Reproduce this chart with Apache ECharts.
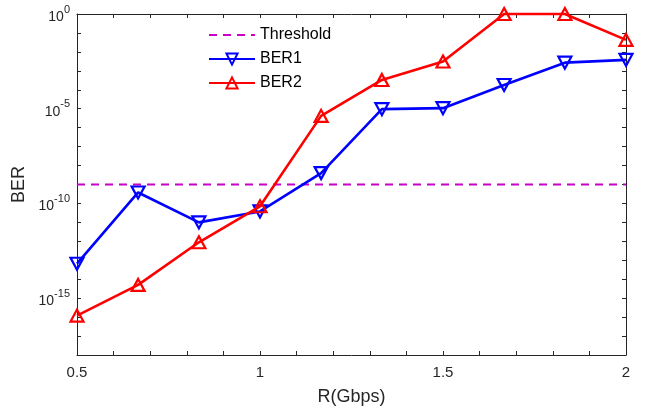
<!DOCTYPE html>
<html>
<head>
<meta charset="utf-8">
<script src="https://cdn.jsdelivr.net/npm/echarts@6/dist/echarts.min.js"></script>
<style>
  html, body { margin: 0; padding: 0; background: #fff; }
  #chart { width: 655px; height: 412px; }
</style>
</head>
<body>
<div id="chart"></div>
<script>
// Data rate (Gbps) for each measurement
const rates = [0.5, 0.667, 0.833, 1.0, 1.167, 1.333, 1.5, 1.667, 1.833, 2.0];
// Bit error rates
const ber1 = [6.6e-14, 3.8e-10, 1.0e-11, 3.8e-11, 4.0e-9, 9.5e-6, 1.07e-5, 1.8e-4, 2.7e-3, 3.8e-3];
const ber2 = [1.2e-16, 5.0e-15, 8.9e-13, 7.1e-11, 4.2e-6, 3.3e-4, 3.1e-3, 1.0, 1.0, 4.3e-2];
// Error threshold level
const threshold = 1e-9;
// Decades that carry a tick label
const labeledExponents = [-15, -10, -5, 0];

const AXIS = '#262626';
const FONT = 'Arial, "Liberation Sans", sans-serif';

function pairs(xs, ys) { return xs.map((x, i) => [x, ys[i]]); }

const chart = echarts.init(document.getElementById('chart'), null, { renderer: 'canvas' });

const tickCommon = { show: true, inside: true, length: 4, lineStyle: { color: AXIS, width: 1 } };
const lineCommon = { show: true, onZero: false, lineStyle: { color: AXIS, width: 1 } };

const xBase = { type: 'value', min: 0.5, max: 2, interval: 0.1, splitLine: { show: false } };
const yBase = { type: 'log', logBase: 10, min: 1e-18, max: 1, interval: 1, splitNumber: 18, splitLine: { show: false } };

chart.setOption({
  animation: false,
  backgroundColor: '#fff',
  textStyle: { fontFamily: FONT },
  grid: { left: 77, right: 29, top: 14, bottom: 57, containLabel: false },
  legend: {
    orient: 'vertical',
    left: 203,
    top: 22,
    padding: 5,
    itemWidth: 46,
    itemHeight: 14,
    itemGap: 8,
    textStyle: { fontSize: 16, color: '#000', fontFamily: FONT },
    data: [
      { name: 'Threshold', itemStyle: { opacity: 0 } },
      'BER1',
      'BER2'
    ]
  },
  xAxis: [
    Object.assign({}, xBase, {
      position: 'bottom',
      name: 'R(Gbps)',
      nameLocation: 'middle',
      nameGap: 33,
      nameTextStyle: { fontSize: 18, color: AXIS, fontFamily: FONT },
      axisLine: lineCommon,
      axisTick: tickCommon,
      axisLabel: {
        color: AXIS, fontSize: 15, margin: 10, fontFamily: FONT,
        formatter: v => {
          const r = Math.round(v * 10) / 10;
          return Math.abs(r * 2 - Math.round(r * 2)) < 1e-6 ? String(r) : '';
        }
      }
    }),
    Object.assign({}, xBase, {
      position: 'top',
      axisLine: lineCommon,
      axisTick: tickCommon,
      axisLabel: { show: false }
    })
  ],
  yAxis: [
    Object.assign({}, yBase, {
      position: 'left',
      name: 'BER',
      nameLocation: 'middle',
      nameGap: 49,
      nameTextStyle: { fontSize: 18, color: AXIS, fontFamily: FONT },
      axisLine: lineCommon,
      axisTick: tickCommon,
      axisLabel: {
        margin: 7,
        formatter: v => {
          const e = Math.round(Math.log10(v));
          return labeledExponents.includes(e) ? '{b|10}{s|' + e + '}' : '';
        },
        rich: {
          b: { fontSize: 14, color: AXIS, fontFamily: FONT, verticalAlign: 'bottom', lineHeight: 20 },
          s: { fontSize: 11, color: AXIS, fontFamily: FONT, verticalAlign: 'top', lineHeight: 20 }
        }
      }
    }),
    Object.assign({}, yBase, {
      position: 'right',
      axisLine: lineCommon,
      axisTick: tickCommon,
      axisLabel: { show: false }
    })
  ],
  series: [
    {
      name: 'Threshold',
      type: 'line',
      data: [[0.5, threshold], [2, threshold]],
      symbol: 'none',
      itemStyle: { color: '#C800C8' },
      lineStyle: { color: '#C800C8', width: 2, type: [8, 6] },
      z: 2
    },
    {
      name: 'BER1',
      type: 'line',
      data: pairs(rates, ber1),
      symbol: 'triangle',
      symbolRotate: 180,
      symbolSize: [13, 12],
      clip: false,
      itemStyle: { color: 'rgba(0,0,255,0)', borderColor: '#0000FF', borderWidth: 2.2 },
      lineStyle: { color: '#0000FF', width: 2.6 },
      z: 3
    },
    {
      name: 'BER2',
      type: 'line',
      data: pairs(rates, ber2),
      symbol: 'triangle',
      symbolSize: [13, 12],
      clip: false,
      itemStyle: { color: 'rgba(255,0,0,0)', borderColor: '#FF0000', borderWidth: 2.2 },
      lineStyle: { color: '#FF0000', width: 2.6 },
      z: 4
    }
  ]
});
</script>
</body>
</html>
